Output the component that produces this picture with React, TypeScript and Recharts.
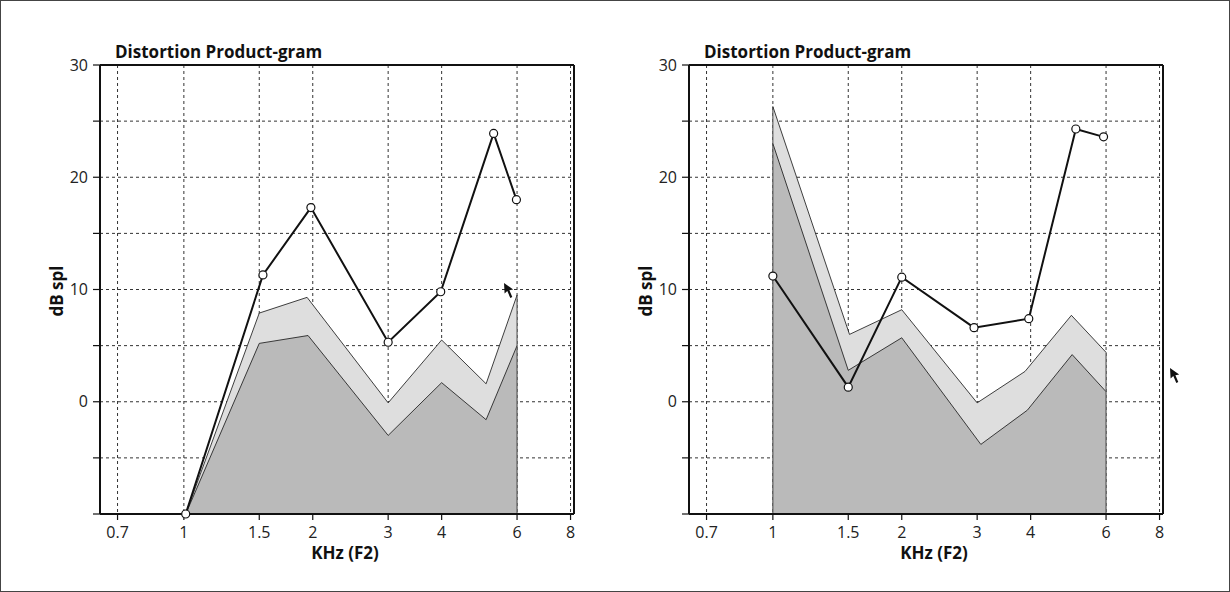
import React from 'react';
import { Area, CartesianGrid, ComposedChart, Line, ReferenceLine, XAxis, YAxis } from 'recharts';

const FONT = '"Open Sans", "Noto Sans", sans-serif';

const FREQ_TICKS = [0.7, 1, 1.5, 2, 3, 4, 6, 8];
const DB_TICKS = [-10, -5, 0, 5, 10, 15, 20, 25, 30];
const FREQ_DOMAIN: [number, number] = [0.637, 8.15];
const DB_DOMAIN: [number, number] = [-10, 30];

// left panel
const leftLineFreq = [1.01, 1.53, 1.98, 3.0, 3.98, 5.29, 5.98];
const leftLineDb = [-10, 11.3, 17.3, 5.3, 9.8, 23.9, 18.0];
const leftUpperFreq = [1.01, 1.5, 1.94, 3.0, 4.0, 5.08, 6.0];
const leftUpperDb = [-10, 7.9, 9.3, -0.1, 5.5, 1.6, 9.5];
const leftLowerFreq = [1.01, 1.5, 1.95, 3.0, 4.0, 5.08, 6.0];
const leftLowerDb = [-10, 5.2, 5.9, -3.0, 1.7, -1.6, 5.0];

// right panel
const rightLineFreq = [1.0, 1.5, 2.0, 2.95, 3.96, 5.1, 5.92];
const rightLineDb = [11.2, 1.3, 11.1, 6.6, 7.4, 24.3, 23.6];
const rightUpperFreq = [1.0, 1.51, 2.0, 3.0, 3.88, 4.98, 6.0];
const rightUpperDb = [26.3, 6.0, 8.2, -0.1, 2.7, 7.7, 4.4];
const rightLowerFreq = [1.0, 1.5, 2.0, 3.06, 3.93, 5.0, 6.0];
const rightLowerDb = [23.0, 2.8, 5.7, -3.8, -0.75, 4.2, 0.9];

type Pt = { f: number; db: number };
const zip = (f: number[], db: number[]): Pt[] => f.map((v, i) => ({ f: v, db: db[i] }));

const Cursor = ({ x, y }: { x: number; y: number }) => (
	<svg width={14} height={18} style={{ position: 'absolute', left: x, top: y }}>
		<polygon points="1,1 1.6,11.5 4.3,9 7.3,16 9.3,15 6.4,8.2 10.2,7.4" fill="#111" />
	</svg>
);

type GramProps = {
	left: number;
	line: Pt[];
	upper: Pt[];
	lower: Pt[];
};

const Gram: React.FC<GramProps> = ({ left, line, upper, lower }) => {
	const first = upper[0];
	const last = upper[upper.length - 1];
	return (
		<div style={{ position: 'absolute', left, top: 0, width: 600, height: 592 }}>
			<ComposedChart width={600} height={592} margin={{ top: 64, right: 27, bottom: 29, left: 39 }}>
				<CartesianGrid stroke="#333" strokeDasharray="3 3" />
				<Area data={upper} dataKey="db" type="linear" baseValue={-10} fill="#dedede" fillOpacity={1} stroke="#111" strokeWidth={0.8} isAnimationActive={false} />
				<Area data={lower} dataKey="db" type="linear" baseValue={-10} fill="#bababa" fillOpacity={1} stroke="#111" strokeWidth={0.8} isAnimationActive={false} />
				{first.db > -10 && <ReferenceLine segment={[{ x: first.f, y: -10 }, { x: first.f, y: first.db }]} stroke="#444" strokeWidth={1} />}
				<ReferenceLine segment={[{ x: last.f, y: -10 }, { x: last.f, y: last.db }]} stroke="#444" strokeWidth={1} />
				<ReferenceLine y={DB_DOMAIN[1]} stroke="#111" strokeWidth={2} />
				<ReferenceLine x={FREQ_DOMAIN[1]} stroke="#111" strokeWidth={2} />
				<Line
					data={line}
					dataKey="db"
					type="linear"
					stroke="#111"
					strokeWidth={2}
					dot={{ r: 4, fill: '#fff', stroke: '#111', strokeWidth: 1.2 }}
					isAnimationActive={false}
				/>
				<XAxis
					dataKey="f"
					type="number"
					scale="log"
					domain={FREQ_DOMAIN}
					ticks={FREQ_TICKS}
					height={50}
					tickSize={6}
					tickMargin={7}
					tick={{ fontSize: 16, fill: '#222', fontFamily: FONT }}
					axisLine={{ stroke: '#111', strokeWidth: 2 }}
					tickLine={{ stroke: '#111', strokeWidth: 1.2 }}
					label={{ value: 'KHz (F2)', position: 'insideBottom', offset: 5, dx: 8, style: { fontSize: 17, fontWeight: 700, fill: '#111', fontFamily: FONT } }}
				/>
				<YAxis
					type="number"
					domain={DB_DOMAIN}
					ticks={DB_TICKS}
					width={60}
					tickSize={7}
					tickMargin={5}
					tickFormatter={(v: number) => (v >= 0 && v % 10 === 0 ? String(v) : '')}
					tick={{ fontSize: 16, fill: '#222', fontFamily: FONT }}
					axisLine={{ stroke: '#111', strokeWidth: 2 }}
					tickLine={{ stroke: '#111', strokeWidth: 1.2 }}
				/>
			</ComposedChart>
			<div style={{ position: 'absolute', left: 114, top: 42, fontFamily: FONT, fontWeight: 700, fontSize: 17, lineHeight: '17px', color: '#111', whiteSpace: 'nowrap' }}>
				Distortion Product-gram
			</div>
			<div
				style={{
					position: 'absolute',
					left: 55,
					top: 290,
					transform: 'translate(-50%, -50%) rotate(-90deg)',
					fontFamily: FONT,
					fontWeight: 700,
					fontSize: 17,
					color: '#111',
					whiteSpace: 'nowrap'
				}}
			>
				dB spl
			</div>
		</div>
	);
};

export default function App() {
	return (
		<div style={{ position: 'absolute', left: 0, top: 0, width: 1230, height: 592, boxSizing: 'border-box', border: '1px solid #444', background: '#fff', overflow: 'hidden' }}>
			<Gram left={0} line={zip(leftLineFreq, leftLineDb)} upper={zip(leftUpperFreq, leftUpperDb)} lower={zip(leftLowerFreq, leftLowerDb)} />
			<Gram left={589} line={zip(rightLineFreq, rightLineDb)} upper={zip(rightUpperFreq, rightUpperDb)} lower={zip(rightLowerFreq, rightLowerDb)} />
			<Cursor x={502} y={281} />
			<Cursor x={1168} y={366} />
		</div>
	);
}
